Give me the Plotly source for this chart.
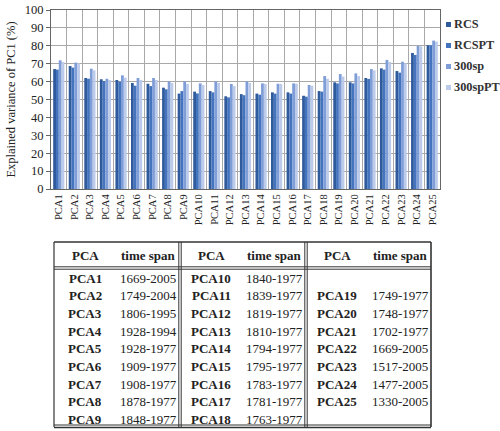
import plotly.graph_objects as go

categories = [f"PCA{i}" for i in range(1, 26)]
rcs = [67.0, 68.7, 62.0, 61.3, 60.9, 59.2, 58.8, 56.6, 53.3, 54.4, 54.7, 51.8, 53.0,
       53.3, 54.0, 54.0, 52.1, 54.7, 59.6, 59.6, 62.0, 67.4, 65.9, 76.0, 80.3]
rcspt = [66.7, 67.8, 61.6, 60.3, 60.0, 57.7, 57.5, 55.7, 54.7, 53.4, 54.0, 51.2, 52.4,
         52.7, 53.3, 53.3, 51.6, 54.4, 59.0, 59.0, 61.5, 66.7, 65.0, 74.9, 80.3]
sp300 = [71.9, 70.6, 67.2, 61.6, 63.5, 62.0, 62.0, 60.1, 60.1, 59.0, 60.1, 58.7, 60.1,
         59.0, 58.8, 59.0, 58.1, 63.1, 64.2, 64.6, 67.0, 72.1, 71.1, 79.9, 82.9]
sp300pt = [71.0, 70.2, 66.3, 60.9, 62.2, 60.9, 60.9, 59.2, 58.7, 58.1, 59.2, 57.5, 59.2,
           58.7, 58.7, 58.8, 57.7, 61.6, 62.8, 63.1, 66.3, 71.0, 70.2, 79.7, 82.3]
series_names = ["RCS", "RCSPT", "300sp", "300spPT"]
series_colors = ["#2f5a9c", "#4474bd", "#7f9ed8", "#bccbea"]

yticks = list(range(0, 101, 10))

table_pca = categories
table_span = ["1669-2005", "1749-2004", "1806-1995", "1928-1994", "1928-1977",
              "1909-1977", "1908-1977", "1878-1977", "1848-1977", "1840-1977",
              "1839-1977", "1819-1977", "1810-1977", "1794-1977", "1795-1977",
              "1783-1977", "1781-1977", "1763-1977", "1749-1977", "1748-1977",
              "1702-1977", "1669-2005", "1517-2005", "1477-2005", "1330-2005"]
table_headers = ["PCA", "time span"]

W, H = 500, 431
SERIF = "Liberation Serif, Times New Roman, serif"


def px(x):
    return x / W


def py(y):
    return 1 - y / H


fig = go.Figure()
for name, vals, col in zip(series_names, [rcs, rcspt, sp300, sp300pt], series_colors):
    fig.add_trace(go.Bar(x=categories, y=vals, name=name, marker_color=col,
                         marker_line_width=0, showlegend=False))

annotations = []
shapes = []

# manual legend
leg_y = [24, 45, 66, 87]
for name, col, yy in zip(series_names, series_colors, leg_y):
    shapes.append(dict(type="rect", xref="paper", yref="paper",
                       x0=px(446), x1=px(451), y0=py(yy + 3), y1=py(yy - 2),
                       fillcolor=col, line_width=0))
    annotations.append(dict(xref="paper", yref="paper", x=px(452), y=py(yy),
                            text=f"<b>{name}</b>", showarrow=False, xanchor="left",
                            yanchor="middle", font=dict(family=SERIF, size=12.3, color="#333")))

# table
tx0, tx1 = 54, 431
ttop, thead, tbot = 242, 268, 427
group_x = [54, 180, 306]
row0, drow = 278.3, 17.62

line_c = "#333333"
def hline(y, x0=tx0, x1=tx1, w=1.2):
    shapes.append(dict(type="line", xref="paper", yref="paper", x0=px(x0), x1=px(x1),
                       y0=py(y), y1=py(y), line=dict(color=line_c, width=w)))

def vline(x, y0=ttop, y1=tbot, w=1.2):
    shapes.append(dict(type="line", xref="paper", yref="paper", x0=px(x), x1=px(x),
                       y0=py(y0), y1=py(y1), line=dict(color=line_c, width=w)))

hline(ttop, w=1.6)
hline(thead - 1.2, w=1)
hline(thead + 1.2, w=1)
hline(tbot - 2, w=1)
hline(tbot + 0.5, w=1.4)
vline(tx0, w=1.2)
vline(tx1, w=1.6)
for gx in group_x[1:]:
    vline(gx - 1.2, w=1)
    vline(gx + 1.2, w=1)

for gx in group_x:
    annotations.append(dict(xref="paper", yref="paper", x=px(gx + 31), y=py(255),
                            text=f"<b>{table_headers[0]}</b>", showarrow=False,
                            xanchor="center", yanchor="middle",
                            font=dict(family=SERIF, size=13, color="#222")))
    annotations.append(dict(xref="paper", yref="paper", x=px(gx + 94), y=py(255),
                            text=f"<b>{table_headers[1]}</b>", showarrow=False,
                            xanchor="center", yanchor="middle",
                            font=dict(family=SERIF, size=13, color="#222")))

for i, (name, span) in enumerate(zip(table_pca, table_span)):
    if i < 9:
        g, r = 0, i
    elif i < 18:
        g, r = 1, i - 9
    else:
        g, r = 2, i - 18 + 1
    yy = row0 + r * drow
    gx = group_x[g]
    annotations.append(dict(xref="paper", yref="paper", x=px(gx + 31), y=py(yy),
                            text=f"<b>{name}</b>", showarrow=False, xanchor="center",
                            yanchor="middle", font=dict(family=SERIF, size=13, color="#222")))
    annotations.append(dict(xref="paper", yref="paper", x=px(gx + 94), y=py(yy),
                            text=span, showarrow=False, xanchor="center",
                            yanchor="middle", font=dict(family=SERIF, size=13, color="#222")))

fig.update_layout(
    width=W, height=H, margin=dict(l=0, r=0, t=0, b=0),
    paper_bgcolor="white", plot_bgcolor="white",
    barmode="group", bargap=0.28, bargroupgap=0,
    annotations=annotations, shapes=shapes,
    font=dict(family=SERIF, color="#222"),
    xaxis=dict(domain=[px(51), px(440)], tickson="boundaries", showgrid=True,
               gridcolor="#a8a8a8", gridwidth=1, tickangle=-90,
               tickfont=dict(family=SERIF, size=10.5, color="#222"),
               showline=True, linecolor="#666", linewidth=1.2, mirror=True,
               ticks="", automargin=False),
    yaxis=dict(domain=[py(189), py(10)], range=[0, 100], tickvals=yticks,
               showgrid=True, gridcolor="#a8a8a8", gridwidth=1,
               tickfont=dict(family=SERIF, size=12.5, color="#222"),
               showline=True, linecolor="#666", linewidth=1.2, mirror=True,
               ticks="outside", ticklen=4, tickcolor="#666",
               title=dict(text="Explained variance of PC1 (%)", standoff=6,
                          font=dict(family=SERIF, size=12.5, color="#222")),
               automargin=False, zeroline=False),
)

fig.write_html("out.html")
